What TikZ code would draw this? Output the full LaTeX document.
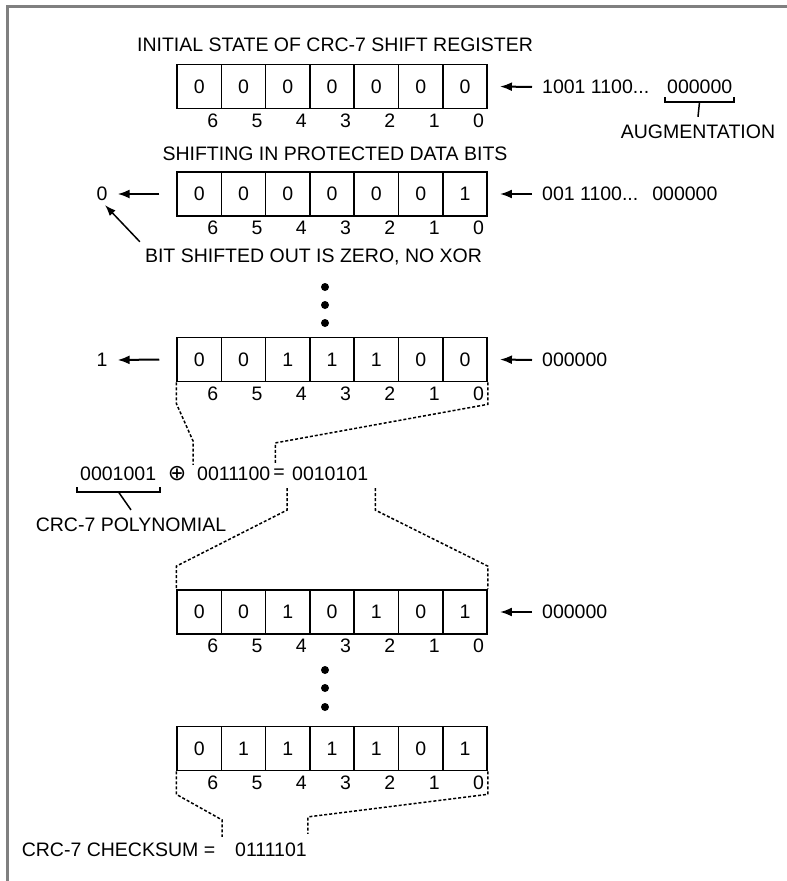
\documentclass[tikz,border=0pt]{standalone}
\usepackage{fontspec}
\setmainfont{Liberation Sans}
\newfontfamily\symfont{DejaVu Sans}
\usepackage{tikz}
\usetikzlibrary{arrows.meta}

% one register: name, centre y, bits from 6 down to 0
\newcommand{\shiftreg}[3]{%
  \foreach \b [count=\i from 0] in {#3} {
    \pgfmathtruncatemacro{\k}{6-\i}
    \node[cell] (#1c\k) at ({199.2+44.3*\i},#2) {\b};
    \node (#1i\k) at ({212.7+44.3*\i},#2+34) {\k};
  }}

\begin{document}
\begin{tikzpicture}[x=1pt, y=-1pt,
    every node/.style={font=\fontsize{19.5}{22}\selectfont, inner sep=0pt},
    cell/.style={draw, line width=1.6pt, minimum width=44.3pt, minimum height=44pt},
    arr/.style={line width=2pt, -{Latex[length=12pt,width=9pt]}},
    dashy/.style={line width=1.5pt, dash pattern=on 3pt off 2pt},
    brace/.style={line width=1.5pt},
    frame/.style={gray, line width=3pt}]
  \useasboundingbox (0,0) rectangle (787,881);
  % рамка
  \draw[frame] (7.5,881) -- (7.5,6.5) -- (787,6.5);

  % начальное состояние
  \node (t1) at (335,45) {INITIAL STATE OF CRC-7 SHIFT REGISTER};
  \shiftreg{r1}{86.5}{0,0,0,0,0,0,0}
  \node[anchor=west] (in1) at (542,87) {1001 1100...};
  \node[anchor=west] (aug) at (667,87) {000000};
  \draw[arr] ([xshift=-10pt]in1.west) -- ([xshift=12pt]r1c0.east);
  \draw[brace] (665,97) -- (665,102) -- (734,102) -- (734,97);
  \coordinate (augmid) at (699.5,102);
  \node (augtxt) at (698,132) {AUGMENTATION};
  \draw[brace] (augmid) -- ([yshift=8pt]augtxt.north);

  % сдвиг данных
  \node (t2) at (335,154) {SHIFTING IN PROTECTED DATA BITS};
  \shiftreg{r2}{194}{0,0,0,0,0,0,1}
  \node[anchor=west] (in2) at (542,194) {001 1100...\hspace{14pt}000000};
  \draw[arr] ([xshift=-10pt]in2.west) -- ([xshift=12pt]r2c0.east);
  \node (out2) at (102,194) {0};
  \draw[arr] ([xshift=-17pt]r2c6.west) -- ([xshift=10pt]out2.east);
  \node (note) at (313.5,257) {BIT SHIFTED OUT IS ZERO, NO XOR};
  \draw[line width=1.5pt, -{Latex[length=11pt,width=8pt]}] ([shift={(-5pt,7pt)}]note.north west) -- ([shift={(3pt,-4pt)}]out2.south);

  % точки
  \foreach \y in {287,305,323} \fill (325,\y) circle [radius=4];

  \shiftreg{r3}{359.5}{0,0,1,1,1,0,0}
  \node[anchor=west] (in3) at (542,360) {000000};
  \draw[arr] ([xshift=-10pt]in3.west) -- ([xshift=12pt]r3c0.east);
  \node (out3) at (102,360) {1};
  \draw[arr] ([xshift=-17pt]r3c6.west) -- ([xshift=10pt]out3.east);

  % XOR
  \node[anchor=west] (eqpoly) at (80,474) {0001001};
  \node (eqxor) at (177,474) {\symfont\fontsize{22}{22}\selectfont ⊕};
  \node[anchor=west] (eqreg) at (197,474) {0011100};
  \node (eqeq) at (279,474) {=};
  \node[anchor=west] (eqres) at (292,474) {0010101};
  \draw[brace] (77,487) -- (77,492) -- (160,492) -- (160,487);
  \coordinate (polymid) at (118.5,492);
  \node (polytxt) at (131,525) {CRC-7 POLYNOMIAL};
  \draw[brace] (polymid) -- ([yshift=8pt]polytxt.north);
  \draw[dashy] (r3c6.south west) -- ++(0,21) -- ([shift={(-4pt,26pt)}]eqreg.north west) -- ([shift={(-4pt,2pt)}]eqreg.north west);
  \draw[dashy] (r3c0.south east) -- ++(0,22) -- ([shift={(5pt,24pt)}]eqreg.north east) -- ([shift={(5pt,3pt)}]eqreg.north east);

  % результат
  \shiftreg{r4}{612}{0,0,1,0,1,0,1}
  \node[anchor=west] (in4) at (542,612) {000000};
  \draw[arr] ([xshift=-10pt]in4.west) -- ([xshift=12pt]r4c0.east);
  \draw[dashy] ([shift={(-5pt,-7pt)}]eqres.south west) -- ++(0,22) -- ([yshift=23pt]r4c6.north west) -- (r4c6.north west);
  \draw[dashy] ([shift={(7pt,-7pt)}]eqres.south east) -- ++(0,22) -- ([yshift=23pt]r4c0.north east) -- (r4c0.north east);

  \foreach \y in {670,688,707} \fill (325,\y) circle [radius=4];

  % контрольная сумма
  \shiftreg{r5}{748.5}{0,1,1,1,1,0,1}
  \node (sumtxt) at (118.5,850) {CRC-7 CHECKSUM =};
  \node[anchor=west] (sum) at (235,850) {0111101};
  \draw[dashy] (r5c6.south west) -- ++(0,23) -- ([shift={(-13pt,23pt)}]sum.north west) -- ([shift={(-13pt,6pt)}]sum.north west);
  \draw[dashy] (r5c0.south east) -- ++(0,23) -- ([shift={(1pt,26pt)}]sum.north east) -- ([shift={(1pt,9pt)}]sum.north east);
\end{tikzpicture}
\end{document}
